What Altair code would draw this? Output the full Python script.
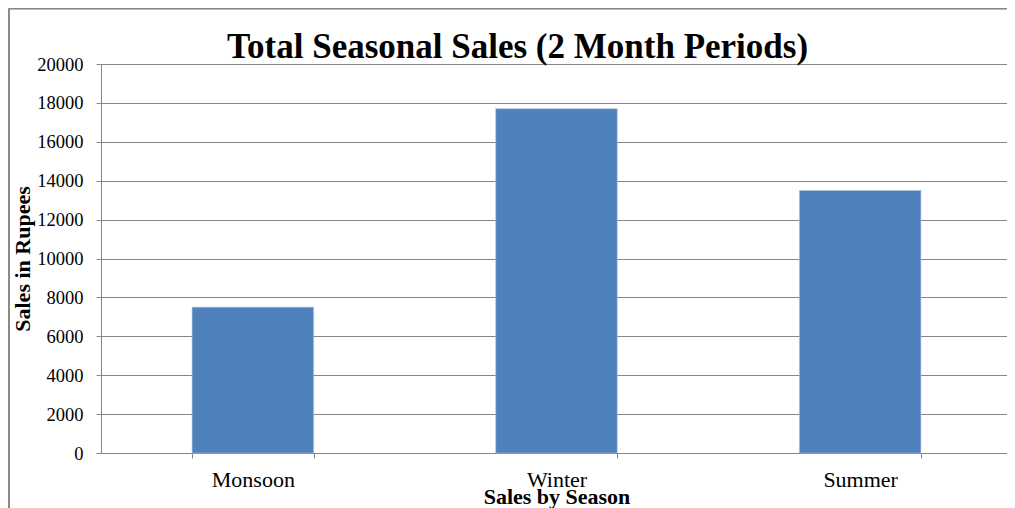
import altair as alt
import pandas as pd

seasons = ["Monsoon", "Winter", "Summer"]
sales = [7500, 17700, 13500]
y_ticks = list(range(0, 20001, 2000))
chart_title = "Total Seasonal Sales (2 Month Periods)"

df = pd.DataFrame({"Season": seasons, "Sales": sales})
FONT = "Liberation Serif"
W, H = 911, 389
GRAY = "#868686"

x_enc = alt.X(
    "Season:N",
    sort=seasons,
    scale=alt.Scale(paddingInner=0.6, paddingOuter=0.3),
    axis=alt.Axis(
        title="Sales by Season",
        titleFont=FONT, titleFontSize=22, titleFontWeight="bold", titleColor="black",
        titleX=W / 2, titleY=50, titleBaseline="alphabetic", titleAlign="center",
        labelFont=FONT, labelFontSize=22, labelColor="black", labelAngle=0,
        labelBaseline="alphabetic", labelPadding=28,
        tickBand="extent", tickSize=5, tickColor=GRAY,
        domainColor=GRAY, grid=False,
    ),
)

bars = alt.Chart(df).mark_bar(color="#4F81BD", stroke="#A7C0DE", strokeWidth=0.6).encode(
    x=x_enc,
    y=alt.Y(
        "Sales:Q",
        scale=alt.Scale(domain=[0, 20000], nice=False),
        axis=alt.Axis(
            values=y_ticks, format="d",
            title="Sales in Rupees",
            titleFont=FONT, titleFontSize=22, titleFontWeight="bold", titleColor="black",
            titleX=-72, titleY=H / 2, titleBaseline="alphabetic", titleAlign="center",
            titleAngle=270,
            labelFont=FONT, labelFontSize=18.5, labelColor="black", labelPadding=13,
            tickSize=5, tickColor=GRAY,
            gridColor=GRAY, gridWidth=1, gridOpacity=1,
            domainColor=GRAY,
        ),
    ),
)

title_df = pd.DataFrame({"t": [chart_title]})
title = alt.Chart(title_df).mark_text(
    font=FONT, fontSize=35, fontWeight="bold", color="black",
    align="center", baseline="alphabetic",
).encode(text="t:N", x=alt.value(W / 2 - 39), y=alt.value(-6))

top_line = alt.Chart(df).mark_rule(stroke="#888888", strokeWidth=1.5).encode(
    x=alt.value(-92), x2=alt.value(W + 10), y=alt.value(-55.5)
)
left_line = alt.Chart(df).mark_rule(stroke="#888888", strokeWidth=1.5).encode(
    x=alt.value(-92), y=alt.value(-55.5), y2=alt.value(H + 80)
)

chart = alt.layer(top_line, left_line, bars, title).properties(
    width=W,
    height=H,
    autosize=alt.AutoSizeParams(type="none"),
    padding={"left": 93, "top": 56, "right": -5, "bottom": 58},
).configure_view(stroke=None).configure(background="white")

chart.save("out.html", embed_options={"renderer": "svg", "actions": False})
